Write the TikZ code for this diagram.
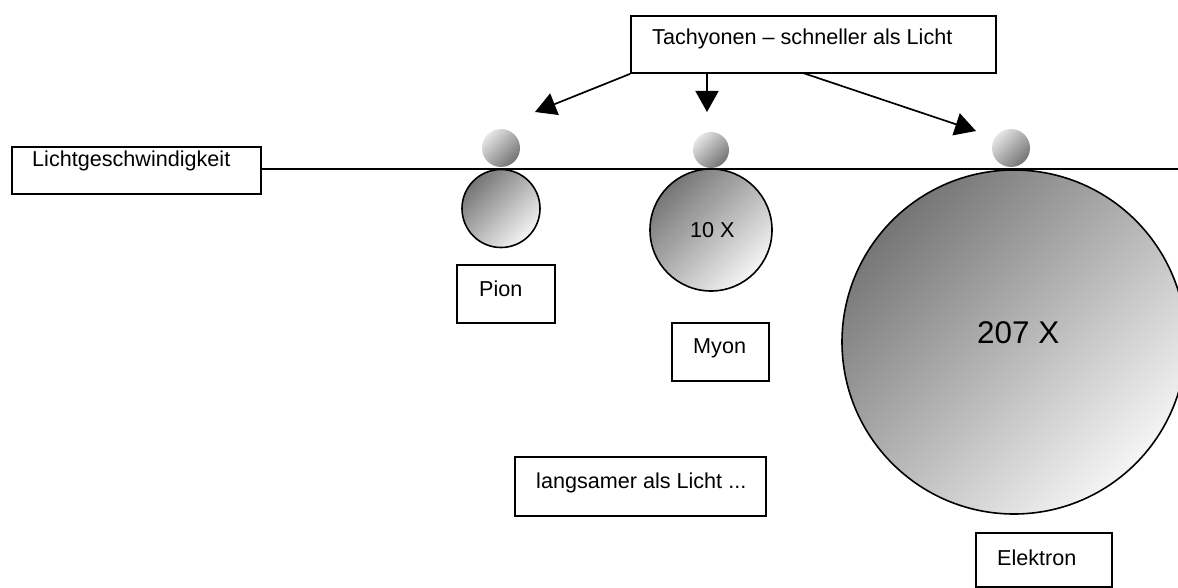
\documentclass[tikz,border=0pt]{standalone}
\usepackage{fontspec}
\setmainfont{Liberation Sans}
\usetikzlibrary{arrows.meta}
\tikzset{
  lbox/.style={draw=black, line width=1.7pt, fill=white, inner sep=0pt, rectangle},
  lbl/.style={inner sep=0pt, anchor=base west, font=\fontsize{21.6}{25}\selectfont},
  big/.style={inner sep=0pt, anchor=base west, font=\fontsize{31.4}{36}\selectfont},
  ptcl/.style={circle, draw=black, line width=1.6pt, inner sep=0pt, shading=axis,
    top color=black!54, middle color=black!28, bottom color=black!4, shading angle=45},
  tach/.style={circle, inner sep=0pt, shading=axis,
    top color=black!10, middle color=black!30, bottom color=black!55, shading angle=45},
  ray/.style={line width=1.7pt, -{Triangle[length=21pt, width=23pt]}},
}
\begin{document}
\begin{tikzpicture}[x=1pt, y=-1pt]
\useasboundingbox (0,0) rectangle (1178,588);

% speed-of-light line
\node[lbox, minimum width=249pt, minimum height=47pt] (lg) at (136.5,170.5) {};
\node[lbl] (lgt) at (32,167) {Lichtgeschwindigkeit};
\coordinate (lineend) at (1178,169);
\draw[line width=1.6pt] (lg.east |- lineend) -- (lineend);

% particles below the line
\node[ptcl, minimum size=78pt] (pion) at (501,208.5) {};
\node[ptcl, minimum size=122pt] (myon) at (711,230) {};
\node[ptcl, minimum size=344pt] (elek) at (1014,342) {};
\node[lbl] (ten) at (690,238) {10 X};
\node[big] (twoseven) at (977,343) {207 X};

% tachyons above the line
\node[tach, minimum size=38pt] (t1) at (501,148) {};
\node[tach, minimum size=36pt] (t2) at (711,150) {};
\node[tach, minimum size=38pt] (t3) at (1011,148) {};

% labels
\node[lbox, minimum width=365pt, minimum height=57pt] (tb) at (813.5,44.5) {};
\node[lbl] (tbt) at (652,45) {Tachyonen – schneller als Licht};
\node[lbox, minimum width=98pt, minimum height=58pt] (pb) at (506,294) {};
\node[lbl] (pbt) at (479,296) {Pion};
\node[lbox, minimum width=97pt, minimum height=58pt] (mb) at (720.5,352) {};
\node[lbl] (mbt) at (693,353) {Myon};
\node[lbox, minimum width=251pt, minimum height=59pt] (sb) at (640.5,486.5) {};
\node[lbl] (sbt) at (536,488) {langsamer als Licht ...};
\node[lbox, minimum width=136pt, minimum height=54pt] (eb) at (1044,560) {};
\node[lbl] (ebt) at (997,565) {Elektron};

% arrows from the tachyon label
\coordinate (a1) at (535,112);
\coordinate (a2) at (707,112);
\coordinate (a3) at (976,131);
\coordinate (s2) at (707,73);
\coordinate (s3) at (803,73);
\draw[ray] (tb.south west) -- (a1);
\draw[ray] (s2) -- (a2);
\draw[ray] (s3) -- (a3);
\end{tikzpicture}
\end{document}
